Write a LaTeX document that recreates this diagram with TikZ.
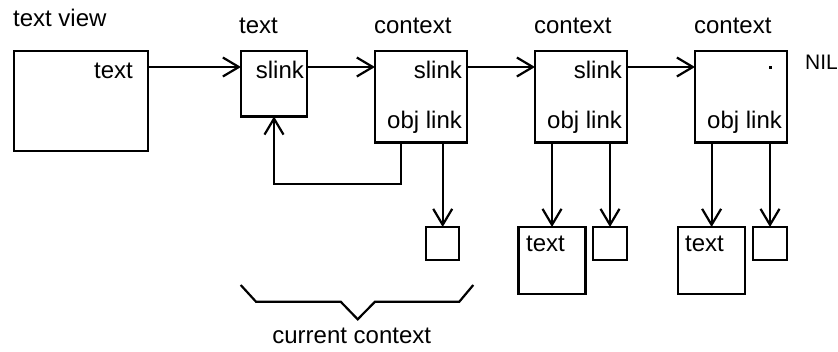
\documentclass[tikz,border=0pt]{standalone}
\usepackage{fontspec}
\setmainfont{Liberation Sans}
\usetikzlibrary{arrows.meta}
\begin{document}
\begin{tikzpicture}[x=1pt,y=-1pt,
  line width=2.2pt,
  every node/.style={font=\fontsize{24}{28}\selectfont},
  cell/.style={draw, inner sep=0pt, outer sep=0pt},
  lbl/.style={inner sep=0pt},
  arr/.style={-{Straight Barb[length=16pt,width=19pt,line width=2.2pt]}}]
\useasboundingbox (0,0) rectangle (838,351);

% boxes of the chain
\node[cell, minimum width=134pt, minimum height=100.5pt] (tv) at (81,101) {};
\node[cell, minimum width=66pt,  minimum height=65.5pt]  (tb) at (274,83.7) {};
\node[cell, minimum width=91.7pt, minimum height=91.5pt] (c1) at (420.8,96.7) {};
\node[cell, minimum width=92pt,  minimum height=91.5pt]  (c2) at (581,96.7) {};
\node[cell, minimum width=92pt,  minimum height=91.5pt]  (c3) at (741,96.7) {};

% objects hanging below the contexts
\node[cell, minimum width=33.3pt, minimum height=33pt] (s1) at (442.7,243.5) {};
\node[cell, minimum width=67pt,   minimum height=67pt] (t2) at (552,260.5) {};
\node[cell, minimum width=33.3pt, minimum height=33pt] (s2) at (610,243.5) {};
\node[cell, minimum width=67.3pt, minimum height=67pt] (t3) at (711.6,260.5) {};
\node[cell, minimum width=33.3pt, minimum height=33pt] (s3) at (770,243.5) {};

% titles
\node[lbl, anchor=base west] (ltv) at (12,26) {text view};
\node[lbl, anchor=base west] (ltb) at (238,33) {text};
\node[lbl, anchor=base west] (lc1) at (373,33) {context};
\node[lbl, anchor=base west] (lc2) at (533,33) {context};
\node[lbl, anchor=base west] (lc3) at (693,33) {context};

% field names inside the boxes
\node[lbl, anchor=base east] (ftv) at (134,78) {text};
\node[lbl, anchor=base east] (ftb) at (305,78) {slink};
\node[lbl, anchor=base east] (fc1s) at (463,78) {slink};
\node[lbl, anchor=base east] (fc1o) at (463,128) {obj link};
\node[lbl, anchor=base east] (fc2s) at (623,78) {slink};
\node[lbl, anchor=base east] (fc2o) at (623,128) {obj link};
\node[lbl, anchor=base east] (fc3o) at (783,128) {obj link};
\node[lbl, anchor=base west] (ft2) at (525,251) {text};
\node[lbl, anchor=base west] (ft3) at (684,251) {text};
\fill (768.5,65.5) rectangle (771.5,68.5);
\node[lbl, anchor=base west, font=\fontsize{21}{24}\selectfont] (nil) at (804,69) {NIL};

% links along the chain
\coordinate (row) at (0,67);
\draw[arr] (tv.east |- row) -- (tb.west |- row);
\draw[arr] (tb.east |- row) -- (c1.west |- row);
\draw[arr] (c1.east |- row) -- (c2.west |- row);
\draw[arr] (c2.east |- row) -- (c3.west |- row);

% link back to the text
\coordinate (fb) at (401,184);
\draw[arr] (c1.south -| fb) -- (fb) -| (tb.south);

% object links
\draw[arr] (c1.south -| s1.north) -- (s1.north);
\draw[arr] (c2.south -| t2.north) -- (t2.north);
\draw[arr] (c2.south -| s2.north) -- (s2.north);
\draw[arr] (c3.south -| t3.north) -- (t3.north);
\draw[arr] (c3.south -| s3.north) -- (s3.north);

% brace under the current context
\draw (240.7,285) -- (256,301.7) -- (340.7,301.7) -- (357.7,319.3)
      -- (375,301.7) -- (459.3,301.7) -- (473.3,285);
\node[lbl, anchor=base] (cur) at (351.7,343) {current context};
\end{tikzpicture}
\end{document}
